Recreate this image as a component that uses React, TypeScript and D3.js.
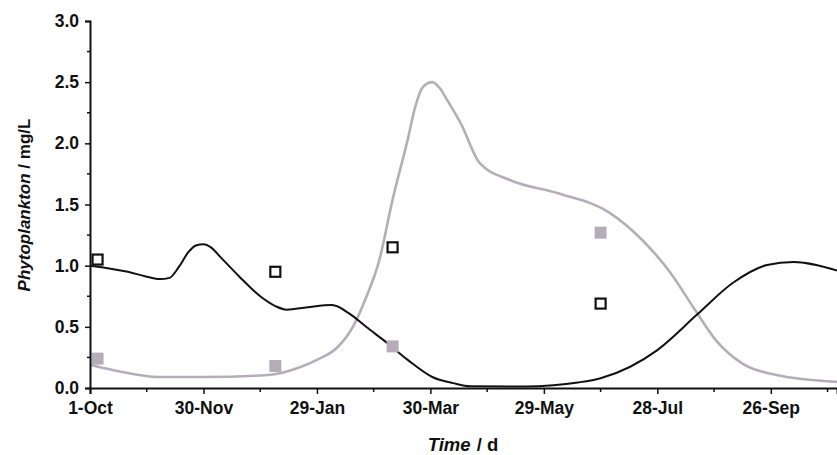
import React, { useEffect, useRef } from "react";
import * as d3 from "d3";

// days counted from 1-Oct
const xTickDays = [0, 60, 120, 180, 240, 300, 360];
const xTickLabels = ["1-Oct", "30-Nov", "29-Jan", "30-Mar", "29-May", "28-Jul", "26-Sep"];
const xMinorDays = [30, 90, 150, 210, 270, 330, 390];
const yTicks = [0, 0.5, 1.0, 1.5, 2.0, 2.5, 3.0];
const yMinor = [0.25, 0.75, 1.25, 1.75, 2.25, 2.75];

// model curve, black
const blackDays = [0, 20, 30, 37, 42, 47, 52, 56, 60, 64, 69, 79, 90, 98, 104, 115, 128, 137, 146, 157, 168, 181, 192, 201, 230, 245, 258, 270, 300, 321, 340, 358, 372, 395];
const blackValues = [1.0, 0.95, 0.91, 0.89, 0.9, 0.99, 1.11, 1.165, 1.176, 1.15, 1.07, 0.91, 0.75, 0.67, 0.64, 0.66, 0.678, 0.61, 0.5, 0.37, 0.23, 0.09, 0.04, 0.014, 0.012, 0.022, 0.045, 0.08, 0.31, 0.6, 0.86, 1.005, 1.03, 0.96];

// model curve, grey
const greyDays = [0, 12, 37, 60, 94, 111, 120, 131, 139, 146, 153, 160, 168, 172, 176, 181, 185, 189, 196, 206, 222, 248, 275, 292, 307, 319, 331, 345, 363, 395];
const greyValues = [0.19, 0.147, 0.09, 0.09, 0.106, 0.17, 0.23, 0.335, 0.5, 0.74, 1.046, 1.54, 2.03, 2.3, 2.46, 2.5, 2.45, 2.35, 2.165, 1.84, 1.7, 1.59, 1.43, 1.21, 0.94, 0.66, 0.39, 0.2, 0.106, 0.05];

// observations
const obsDays = [4, 98, 160, 270];
const obsBlack = [1.05, 0.95, 1.15, 0.69];
const obsGrey = [0.24, 0.18, 0.34, 1.27];

const W = 837;
const H = 455;
const FONT = "'Liberation Sans', Arial, sans-serif";

const App = () => {
  const svgRef = useRef<SVGSVGElement>(null);

  useEffect(() => {
    const svg = d3.select(svgRef.current);
    svg.selectAll("*").remove();

    const x = d3.scaleLinear().domain([0, 395]).range([90, 837]);
    const y = d3.scaleLinear().domain([0, 3]).range([388, 21]);

    const black = blackDays.map((d, i) => [d, blackValues[i]] as [number, number]);
    const grey = greyDays.map((d, i) => [d, greyValues[i]] as [number, number]);

    const line = d3
      .line<[number, number]>()
      .x((d) => x(d[0]))
      .y((d) => y(d[1]))
      .curve(d3.curveMonotoneX);

    // curves
    svg.append("path")
      .attr("d", line(grey))
      .attr("fill", "none")
      .attr("stroke", "#b5aeb9")
      .attr("stroke-width", 2.6);

    svg.append("path")
      .attr("d", line(black))
      .attr("fill", "none")
      .attr("stroke", "#111")
      .attr("stroke-width", 2);

    // observed points
    svg.selectAll(".obsGrey")
      .data(obsDays)
      .enter()
      .append("rect")
      .attr("class", "obsGrey")
      .attr("x", (d) => x(d) - 6)
      .attr("y", (d, i) => y(obsGrey[i]) - 6)
      .attr("width", 12)
      .attr("height", 12)
      .attr("fill", "#b4adb9");

    svg.selectAll(".obsBlack")
      .data(obsDays)
      .enter()
      .append("rect")
      .attr("class", "obsBlack")
      .attr("x", (d) => x(d) - 5)
      .attr("y", (d, i) => y(obsBlack[i]) - 5)
      .attr("width", 10)
      .attr("height", 10)
      .attr("fill", "white")
      .attr("stroke", "#111")
      .attr("stroke-width", 2.2);

    // y axis
    const yAxis = svg.append("g").attr("transform", "translate(90,0)");
    yAxis.call(
      d3.axisLeft(y).tickValues(yTicks).tickFormat(d3.format(".1f")).tickSize(5).tickPadding(6)
    );
    yAxis.selectAll(".minor")
      .data(yMinor)
      .enter()
      .append("line")
      .attr("class", "minor")
      .attr("x1", -3)
      .attr("x2", 0)
      .attr("y1", (d) => y(d))
      .attr("y2", (d) => y(d))
      .attr("stroke", "#111")
      .attr("stroke-width", 1.5);

    // x axis
    const xAxis = svg.append("g").attr("transform", "translate(0,388)");
    xAxis.call(
      d3.axisBottom(x)
        .tickValues(xTickDays)
        .tickFormat((d, i) => xTickLabels[i])
        .tickSize(6)
        .tickPadding(8)
    );
    xAxis.selectAll(".minor")
      .data(xMinorDays)
      .enter()
      .append("line")
      .attr("class", "minor")
      .attr("x1", (d) => x(d))
      .attr("x2", (d) => x(d))
      .attr("y1", 0)
      .attr("y2", 4)
      .attr("stroke", "#111")
      .attr("stroke-width", 1.5);

    svg.selectAll(".domain").attr("stroke", "#111").attr("stroke-width", 2);
    svg.selectAll(".tick line").attr("stroke", "#111").attr("stroke-width", 1.5);
    svg.selectAll(".tick text")
      .attr("font-family", FONT)
      .attr("font-size", 17.5)
      .attr("font-weight", "bold")
      .attr("fill", "#111");

    // axis titles
    const xt = svg.append("text")
      .attr("x", 463)
      .attr("y", 451)
      .attr("text-anchor", "middle")
      .attr("font-family", FONT)
      .attr("font-size", 18.5)
      .attr("font-weight", "bold")
      .attr("fill", "#111");
    xt.append("tspan").attr("font-style", "italic").text("Time");
    xt.append("tspan").attr("dx", 6).text("/ d");

    const yt = svg.append("text")
      .attr("transform", "translate(30,205) rotate(-90)")
      .attr("text-anchor", "middle")
      .attr("font-family", FONT)
      .attr("font-size", 17)
      .attr("font-weight", "bold")
      .attr("fill", "#111");
    yt.append("tspan").attr("font-style", "italic").text("Phytoplankton");
    yt.append("tspan").text(" / mg/L");
  }, []);

  return (
    <svg
      ref={svgRef}
      width={W}
      height={H}
      style={{ position: "absolute", left: 0, top: 0, background: "white" }}
    ></svg>
  );
};

export default App;
